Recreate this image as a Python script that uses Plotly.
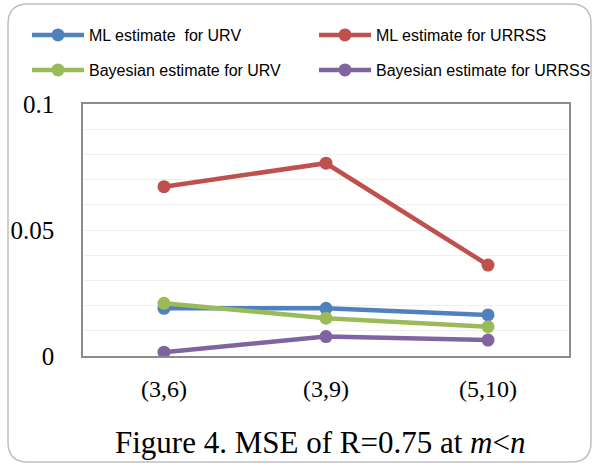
import plotly.graph_objects as go

# Sample-size pairs (m, n)
categories = ["(3,6)", "(3,9)", "(5,10)"]

# Mean squared error of R = 0.75 for each estimator
ml_urv = [0.0189, 0.0189, 0.0163]
ml_urrss = [0.0672, 0.0765, 0.0361]
bayes_urv = [0.0209, 0.0150, 0.0116]
bayes_urrss = [0.0015, 0.0077, 0.0063]

series = [
    ("ML estimate  for URV", ml_urv, "#4F81BD", "legend"),
    ("ML estimate for URRSS", ml_urrss, "#C0504D", "legend2"),
    ("Bayesian estimate for URV", bayes_urv, "#9BBB59", "legend3"),
    ("Bayesian estimate for URRSS", bayes_urrss, "#8064A2", "legend4"),
]

fig = go.Figure()
for name, vals, color, leg in series:
    fig.add_trace(go.Scatter(
        x=categories, y=vals, name=name, mode="lines+markers",
        line=dict(color=color, width=4.5),
        marker=dict(color=color, size=13),
        legend=leg, showlegend=True,
    ))

W, H = 595, 466
L, R, T, B = 83, 26, 104, 110
pw, ph = W - L - R, H - T - B


def px(x):
    return (x - L) / pw


def py(y):
    return (H - B - y) / ph


# Rounded outer frame
x0, x1, y0, y1, r = 8, 591, 4, 462, 20
path = (
    f"M {px(x0 + r)} {py(y0)} L {px(x1 - r)} {py(y0)} "
    f"Q {px(x1)} {py(y0)} {px(x1)} {py(y0 + r)} "
    f"L {px(x1)} {py(y1 - r)} Q {px(x1)} {py(y1)} {px(x1 - r)} {py(y1)} "
    f"L {px(x0 + r)} {py(y1)} Q {px(x0)} {py(y1)} {px(x0)} {py(y1 - r)} "
    f"L {px(x0)} {py(y0 + r)} Q {px(x0)} {py(y0)} {px(x0 + r)} {py(y0)} Z"
)

legend_font = dict(family="Liberation Sans Narrow, Liberation Sans, sans-serif", size=16, color="#000")


def legend_at(x, y):
    return dict(
        orientation="h", x=px(x), y=py(y), xanchor="left", yanchor="middle",
        font=legend_font, itemwidth=52, bgcolor="rgba(0,0,0,0)",
    )


fig.update_layout(
    width=W, height=H,
    showlegend=True,
    margin=dict(l=L, r=R, t=T, b=B, autoexpand=False),
    paper_bgcolor="white", plot_bgcolor="white",
    shapes=[dict(type="path", path=path, xref="paper", yref="paper",
                 line=dict(color="#BFBFBF", width=1.5), layer="below")],
    legend=legend_at(27, 35),
    legend2=legend_at(314, 35),
    legend3=legend_at(27, 70),
    legend4=legend_at(314, 70),
    xaxis=dict(
        range=[-0.5, 2.5],
        showgrid=False, showline=True, linecolor="#8C8C8C", linewidth=1.5,
        mirror=True, ticks="", ticklabelstandoff=10,
        tickfont=dict(family="Liberation Serif, serif", size=24, color="#000"),
    ),
    yaxis=dict(
        range=[0, 0.1], dtick=0.05, tickformat="~g",
        showgrid=True, gridcolor="#EFEFEF", gridwidth=1,
        minor=dict(dtick=0.01, showgrid=True, gridcolor="#EFEFEF", gridwidth=1),
        showline=True, linecolor="#8C8C8C", linewidth=1.5, mirror=True,
        zeroline=False, ticks="", ticklabelstandoff=22,
        tickfont=dict(family="Liberation Serif, serif", size=25, color="#000"),
    ),
    annotations=[dict(
        text="Figure 4. MSE of R=0.75 at <i>m</i>&lt;<i>n</i>",
        xref="paper", yref="paper", x=px(320), y=py(442),
        xanchor="center", yanchor="middle", showarrow=False,
        font=dict(family="Liberation Serif, serif", size=31, color="#000"),
    )],
)

fig.write_html("out.html")
